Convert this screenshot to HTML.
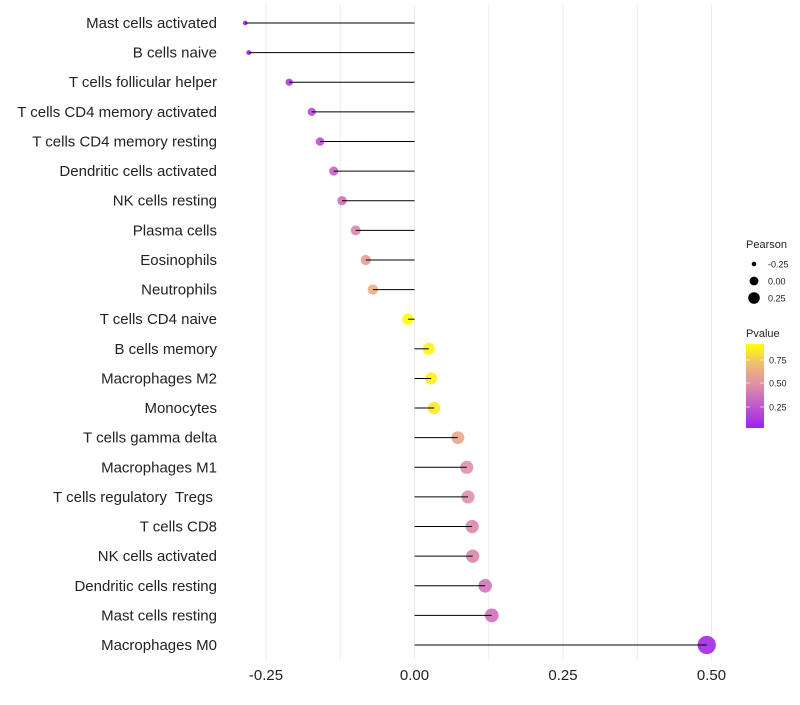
<!DOCTYPE html>
<html><head><meta charset="utf-8"><style>
body{margin:0;background:#fff;font-family:"Liberation Sans",sans-serif}
</style></head><body>
<svg id="chart" width="800" height="700" xmlns="http://www.w3.org/2000/svg" font-family="Liberation Sans, sans-serif"></svg>
<script>
const categories=["Mast cells activated","B cells naive","T cells follicular helper","T cells CD4 memory activated","T cells CD4 memory resting","Dendritic cells activated","NK cells resting","Plasma cells","Eosinophils","Neutrophils","T cells CD4 naive","B cells memory","Macrophages M2","Monocytes","T cells gamma delta","Macrophages M1","T cells regulatory  Tregs ","T cells CD8","NK cells activated","Dendritic cells resting","Mast cells resting","Macrophages M0"];
const pearson=[-0.285,-0.279,-0.211,-0.173,-0.159,-0.136,-0.122,-0.099,-0.082,-0.070,-0.011,0.024,0.028,0.033,0.073,0.088,0.090,0.097,0.098,0.119,0.130,0.492];
const pvalue=[0.03,0.04,0.12,0.2,0.22,0.3,0.36,0.45,0.55,0.65,0.95,0.9,0.88,0.86,0.62,0.5,0.5,0.46,0.45,0.38,0.36,0.05];
const xTicks=[-0.25,0,0.25,0.5];
const xTickLabels=["-0.25","0.00","0.25","0.50"];
const minorTicks=[-0.125,0.125,0.375];
const svg=document.getElementById('chart');
const NS='http://www.w3.org/2000/svg';
function mk(t,a,p){const e=document.createElementNS(NS,t);for(const k in a)e.setAttribute(k,a[k]);(p||svg).appendChild(e);return e;}
const x=v=>414.5+v*594;
const y=i=>23+i*29.62;
const rad=v=>1.2*Math.sqrt(Math.max(2.5,5+70*(v+0.27)));
function lerp(a,b,t){return a.map((c,i)=>Math.round(c+(b[i]-c)*t));}
const stops=[[0,[160,32,240]],[0.5,[222,140,170]],[0.75,[240,185,120]],[1,[255,255,0]]];
function col(p){const t=Math.min(1,Math.max(0,(p-0.02)/0.91));for(let i=0;i<stops.length-1;i++){if(t<=stops[i+1][0]){const c=lerp(stops[i][1],stops[i+1][1],(t-stops[i][0])/(stops[i+1][0]-stops[i][0]));return `rgb(${c})`;}}return 'rgb(255,255,0)';}
[...xTicks,...minorTicks].forEach(v=>{const g=mk('line',{x1:x(v),x2:x(v),y1:5,y2:660,stroke:'#ebebeb','stroke-width':1});

});
xTicks.forEach((v,i)=>{const t=mk('text',{x:x(v),y:680,'text-anchor':'middle','font-size':15,fill:'#222'});t.textContent=xTickLabels[i];

});
categories.forEach((c,i)=>{
const t=mk('text',{x:217,y:y(i)+5,'text-anchor':'end','font-size':15,fill:'#222',style:'white-space:pre'});t.textContent=c;


const d=mk('circle',{cx:x(pearson[i]),cy:y(i),r:rad(pearson[i]),fill:col(pvalue[i]),'fill-opacity':0.9});


const l=mk('line',{x1:x(0),x2:x(pearson[i]),y1:y(i),y2:y(i),stroke:'#000','stroke-width':1});


});
const lg=mk('g',{});


mk('text',{x:746,y:248,'font-size':11,fill:'#222'},lg).textContent='Pearson';
[[-0.25,264],[0,281],[0.25,298]].forEach(([v,yy])=>{mk('circle',{cx:754,cy:yy,r:rad(v)*0.75,fill:'#000'},lg);mk('text',{x:768,y:yy+3.5,'font-size':9,fill:'#222'},lg).textContent=v===0?'0.00':v.toFixed(2);});
const cg=mk('g',{});


mk('text',{x:746,y:337,'font-size':11,fill:'#222'},cg).textContent='Pvalue';
const defs=mk('defs',{},cg);const gr=mk('linearGradient',{id:'pg',x1:0,y1:1,x2:0,y2:0},defs);
for(let k=0;k<=10;k++)mk('stop',{offset:k/10,'stop-color':col(0.02+0.91*k/10)},gr);
mk('rect',{x:746,y:344,width:18,height:84,fill:'url(#pg)'},cg);
[[0.75,360],[0.5,383],[0.25,407]].forEach(([v,yy])=>{mk('line',{x1:746,x2:750,y1:yy,y2:yy,stroke:'#fff','stroke-opacity':0.6},cg);mk('line',{x1:760,x2:764,y1:yy,y2:yy,stroke:'#fff','stroke-opacity':0.6},cg);mk('text',{x:769,y:yy+3.5,'font-size':9,fill:'#222'},cg).textContent=v.toFixed(2);});
</script>
</body></html>
